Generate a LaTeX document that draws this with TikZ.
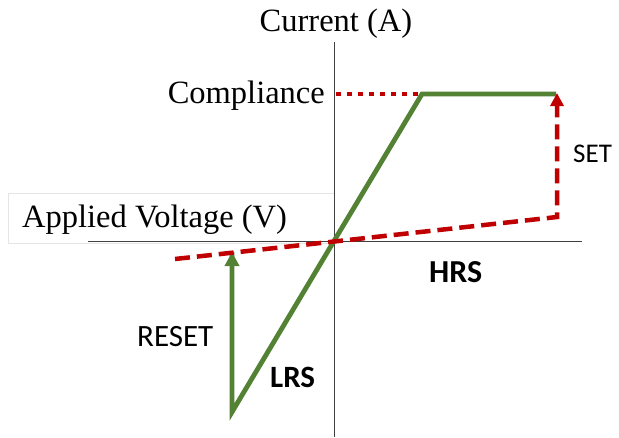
\documentclass[tikz,border=0pt]{standalone}
\usepackage{fontspec}
\setmainfont{Liberation Serif}
\newfontfamily\calib{Carlito}
\usetikzlibrary{arrows.meta}
\definecolor{grn}{RGB}{84,130,53}
\definecolor{rd}{RGB}{192,0,0}
\begin{document}
\begin{tikzpicture}[x=1pt,y=-1pt,
  axis/.style={draw=black!75, line width=0.9pt},
  grnline/.style={draw=grn, line width=4.8pt, line join=miter},
  rdash/.style={draw=rd, line width=4.5pt, dash pattern=on 15pt off 7pt},
  rdot/.style={draw=rd, line width=4.5pt, dash pattern=on 5pt off 6pt},
  serif/.style={font=\fontsize{32.5}{32.5}\selectfont, inner sep=0pt},
  sans/.style={font=\calib\fontsize{31}{31}\selectfont, inner sep=0pt},
  sansb/.style={font=\calib\bfseries\fontsize{31}{31}\selectfont, inner sep=0pt},
  tipg/.style={-{Triangle[length=14pt,width=14pt]}},
  tipr/.style={-{Triangle[length=13pt,width=13pt]}}
]
\useasboundingbox (0,0) rectangle (619,437);
\fill[white] (0,0) rectangle (619,437);
% label box
\draw[black!10, line width=0.6pt] (8,193) rectangle (334,243);
% axes
\coordinate (ytop) at (334,42);
\coordinate (ybot) at (334,437);
\coordinate (xl) at (88,241);
\coordinate (xr) at (582,241);
\draw[axis] (ytop) -- (ybot);
\draw[axis] (xl) -- (xr);
% coordinates
\coordinate (o) at (334,241);
\coordinate (gb) at (232,412);
\coordinate (gt) at (422,94);
\coordinate (ge) at (556,94);
\coordinate (ga) at (232,252);
\coordinate (rl) at (175,259);
\coordinate (rr) at (557,217);
\coordinate (rt) at (557,93);
\coordinate (d0) at (336,94);
\coordinate (d1) at (420,94);
% compliance dotted
\draw[rdot] (d0) -- (d1);
% green curve
\draw[grnline] (ga) -- (gb) -- (o) -- (gt) -- (ge);
\draw[grnline, tipg] (gb) -- (ga);
% red dashed
\draw[rdash, tipr, line join=miter] (rl) -- (rr) -- (rt);
% labels
\node[serif, anchor=base] (cur) at (336,31) {Current (A)};
\node[serif, anchor=base east] (comp) at (325,103) {Compliance};
\node[serif, anchor=base west] (av) at (22,227) {Applied Voltage (V)};
\node[sans, anchor=base west, font=\calib\fontsize{27}{27}\selectfont] (set) at (573,162) {SET};
\node[sansb, anchor=base west, font=\calib\bfseries\fontsize{32}{32}\selectfont] (hrs) at (429,282) {HRS};
\node[sans, anchor=base west] (reset) at (137,346) {RESET};
\node[sansb, anchor=base west] (lrs) at (270,387) {LRS};
\end{tikzpicture}
\end{document}
